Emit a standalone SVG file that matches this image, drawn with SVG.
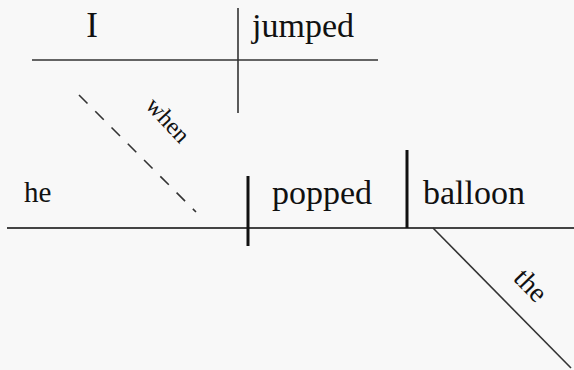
<svg xmlns="http://www.w3.org/2000/svg" width="574" height="370" viewBox="0 0 574 370">
<style>
.t{fill:#111}
.thin{stroke:#333;stroke-width:1.6;fill:none}
.base{stroke:#444;stroke-width:2.2;fill:none}
.bar{stroke:#111;stroke-width:3;fill:none}
</style>
<rect width="574" height="370" fill="#f8f8f8"/>
<g id="connectors">
<line class="thin" x1="32" y1="60" x2="378" y2="60"/>
<line class="thin" x1="238" y1="8" x2="238" y2="113"/>
<line class="thin" x1="79" y1="95" x2="196" y2="212" stroke-dasharray="12 11" stroke-width="1.3"/>
<line class="base" x1="7" y1="228" x2="574" y2="228"/>
<line class="bar" x1="248" y1="176" x2="248" y2="246"/>
<line class="bar" x1="407" y1="150" x2="407" y2="228"/>
<line class="thin" x1="433" y1="228" x2="571" y2="368" stroke-width="1.8"/>
</g>
<g font-family="Liberation Serif, Times New Roman, serif">
<g id="node-I"><text class="t" x="92" y="37" font-size="35" text-anchor="middle">I</text></g>
<g id="node-jumped"><text class="t" x="252" y="37" font-size="34">jumped</text></g>
<g id="node-when"><text class="t" font-size="24" text-anchor="middle" dominant-baseline="central" transform="translate(168,120) rotate(47)">when</text></g>
<g id="node-he"><text class="t" x="24" y="202" font-size="29">he</text></g>
<g id="node-popped"><text class="t" x="272" y="204" font-size="34">popped</text></g>
<g id="node-balloon"><text class="t" x="423" y="204" font-size="34">balloon</text></g>
<g id="node-the"><text class="t" font-size="28" text-anchor="middle" dominant-baseline="central" transform="translate(531,285) rotate(46)">the</text></g>
</g>
</svg>
